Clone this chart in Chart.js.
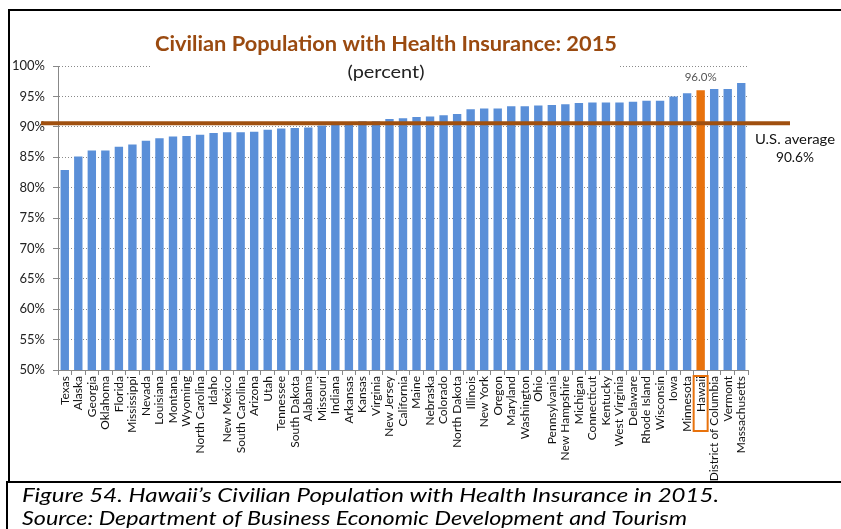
<!DOCTYPE html>
<html>
<head>
<meta charset="utf-8">
<script src="https://cdn.jsdelivr.net/npm/chart.js@4"></script>
<style>
  html, body { margin: 0; padding: 0; background: #fff; }
  canvas { display: block; }
</style>
</head>
<body>
<canvas id="myChart" width="841" height="529"></canvas>
<script>
const states = ['Texas', 'Alaska', 'Georgia', 'Oklahoma', 'Florida', 'Mississippi', 'Nevada', 'Louisiana',
  'Montana', 'Wyoming', 'North Carolina', 'Idaho', 'New Mexico', 'South Carolina', 'Arizona', 'Utah',
  'Tennessee', 'South Dakota', 'Alabama', 'Missouri', 'Indiana', 'Arkansas', 'Kansas', 'Virginia',
  'New Jersey', 'California', 'Maine', 'Nebraska', 'Colorado', 'North Dakota', 'Illinois', 'New York',
  'Oregon', 'Maryland', 'Washington', 'Ohio', 'Pennsylvania', 'New Hampshire', 'Michigan', 'Connecticut',
  'Kentucky', 'West Virginia', 'Delaware', 'Rhode Island', 'Wisconsin', 'Iowa', 'Minnesota', 'Hawaii',
  'District of Columbia', 'Vermont', 'Massachusetts'];
const insured = [82.9, 85.1, 86.1, 86.1, 86.7, 87.1, 87.7, 88.1,
  88.4, 88.5, 88.7, 89.0, 89.1, 89.1, 89.2, 89.5,
  89.7, 89.8, 89.9, 90.2, 90.4, 90.5, 90.9, 90.9,
  91.3, 91.4, 91.6, 91.7, 91.9, 92.1, 92.9, 93.0,
  93.0, 93.4, 93.4, 93.5, 93.6, 93.7, 93.9, 94.0,
  94.0, 94.0, 94.1, 94.3, 94.3, 95.0, 95.5, 96.0,
  96.2, 96.2, 97.2];
const usAverage = 90.6;
const highlight = 'Hawaii';
const yTicks = [50, 55, 60, 65, 70, 75, 80, 85, 90, 95, 100];

const blue = '#5A8FD8';
const orange = '#E8720C';
const brown = '#A0500F';
const font = 'Lato, "Open Sans", sans-serif';

const barColors = states.map(s => s === highlight ? orange : blue);

// draw text squeezed/stretched to a given width (the original uses Calibri)
const fitText = (c, text, x, y, width) => {
  const w = c.measureText(text).width;
  c.save();
  c.translate(x, y);
  c.scale(width / w, 1);
  c.fillText(text, 0, 0);
  c.restore();
};

// everything around the plot: frame, title, average line, labels, caption
const decorations = {
  id: 'decorations',
  afterDraw(chart) {
    const c = chart.ctx;
    const x = chart.scales.x;
    const y = chart.scales.y;
    c.save();

    // white title box over the top gridline
    c.fillStyle = '#fff';
    c.fillRect(152, 26, 468, 56);
    c.textAlign = 'center';
    c.textBaseline = 'middle';
    c.fillStyle = '#9A4A10';
    c.font = 'bold 21px ' + font;
    fitText(c, 'Civilian Population with Health Insurance: 2015', 386, 44, 462);
    c.fillStyle = '#222';
    c.font = '18px ' + font;
    fitText(c, '(percent)', 386, 72, 77);

    // U.S. average line
    const ay = y.getPixelForValue(usAverage);
    c.strokeStyle = brown;
    c.lineWidth = 4;
    c.beginPath();
    c.moveTo(41, ay);
    c.lineTo(790, ay);
    c.stroke();
    c.fillStyle = '#111';
    c.font = '14px ' + font;
    fitText(c, 'U.S. average', 795, 139, 80);
    fitText(c, usAverage.toFixed(1) + '%', 795, 157, 38);

    // label above highlighted bar
    const hi = states.indexOf(highlight);
    const hx = x.getPixelForValue(hi);
    c.fillStyle = '#555';
    c.font = '12px ' + font;
    fitText(c, insured[hi].toFixed(1) + '%', hx, y.getPixelForValue(insured[hi]) - 13, 32);

    // box round the highlighted state name
    c.strokeStyle = orange;
    c.lineWidth = 2;
    c.strokeRect(hx - 7, y.bottom + 6, 14, 55);

    // chart frame
    c.strokeStyle = '#000';
    c.lineWidth = 2;
    c.beginPath();
    c.moveTo(9, 481);
    c.lineTo(9, 10);
    c.lineTo(841, 10);
    c.stroke();
    c.beginPath();
    c.moveTo(7, 529);
    c.lineTo(7, 482);
    c.lineTo(841, 482);
    c.stroke();

    // caption
    c.textAlign = 'left';
    c.textBaseline = 'alphabetic';
    c.fillStyle = '#000';
    c.font = 'italic 19px ' + font;
    fitText(c, 'Figure 54. Hawaii\u2019s Civilian Population with Health Insurance in 2015.', 22, 502, 697);
    fitText(c, 'Source: Department of Business Economic Development and Tourism', 22, 525, 665);
    c.restore();
  }
};

const ctx = document.getElementById('myChart');

const myChart = new Chart(ctx, {
  type: 'bar',
  data: {
    labels: states,
    datasets: [{
      data: insured,
      backgroundColor: barColors,
      borderWidth: 0,
      barPercentage: 0.62,
      categoryPercentage: 1
    }]
  },
  options: {
    responsive: false,
    animation: false,
    devicePixelRatio: 1,
    layout: {
      padding: { top: 66, right: 93, bottom: 47, left: 0 }
    },
    plugins: {
      legend: { display: false },
      title: { display: false },
      tooltip: { enabled: false }
    },
    scales: {
      x: {
        afterFit: (s) => { s.height = 112; },
        grid: {
          drawOnChartArea: false,
          drawTicks: true,
          tickLength: 5,
          color: '#888',
          offset: true
        },
        border: { color: '#888' },
        ticks: {
          autoSkip: false,
          minRotation: 90,
          maxRotation: 90,
          padding: 1,
          color: '#111',
          font: { family: font, size: 12 }
        }
      },
      y: {
        min: 50,
        max: 100,
        afterFit: (s) => { s.width = 58; },
        afterBuildTicks: (s) => { s.ticks = yTicks.map(v => ({ value: v })); },
        grid: {
          color: '#8a8a8a',
          lineWidth: 1,
          tickLength: 5,
          tickColor: '#888',
          tickBorderDash: []
        },
        border: { color: '#888', dash: [1, 2] },
        ticks: {
          padding: 8,
          color: '#222',
          font: { family: font, size: 13 },
          callback: (v) => v + '%'
        }
      }
    }
  },
  plugins: [decorations]
});
</script>
</body>
</html>
